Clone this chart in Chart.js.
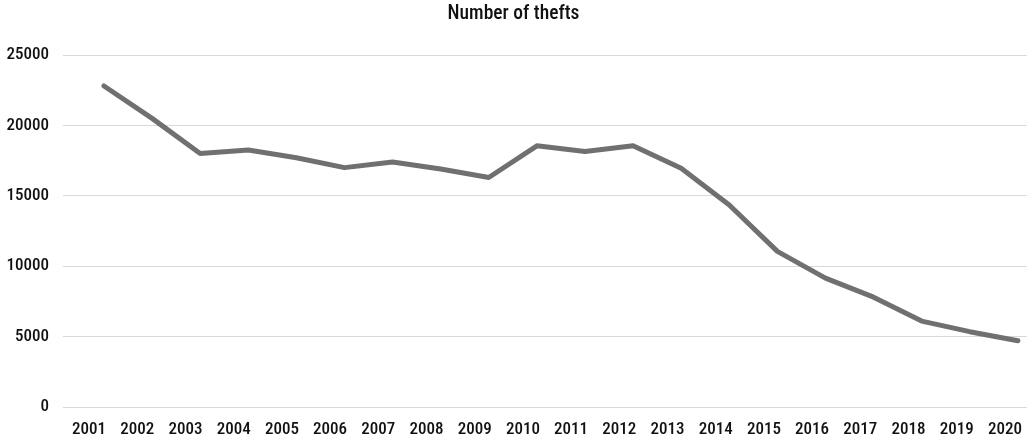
<!DOCTYPE html>
<html>
<head>
<meta charset="utf-8">
<script src="https://cdn.jsdelivr.net/npm/chart.js@4.4.1/dist/chart.umd.min.js"></script>
<style>
  html, body { margin: 0; padding: 0; background: #fff; }
  #wrap { width: 1032px; height: 443px; }
</style>
</head>
<body>
<div id="wrap"><canvas id="theftChart"></canvas></div>
<script>
const years = ["2001", "2002", "2003", "2004", "2005", "2006", "2007", "2008", "2009", "2010",
               "2011", "2012", "2013", "2014", "2015", "2016", "2017", "2018", "2019", "2020"];
const thefts = [22800, 20500, 18000, 18250, 17700, 17000, 17400, 16900, 16300, 18550,
                18150, 18550, 16950, 14350, 11050, 9150, 7800, 6100, 5350, 4700];
const yTicks = [0, 5000, 10000, 15000, 20000, 25000];

const FONT = "'Roboto Condensed', Roboto, sans-serif";
const TEXT = "#111";

function drawChart() {
  new Chart(document.getElementById("theftChart"), {
    type: "line",

    data: {
      labels: years,
      datasets: [{
        label: "Number of thefts",
        // plotted on the hidden linear axis so points sit a bit right of each year label
        xAxisID: "xl",
        data: thefts.map((v, i) => ({ x: i, y: v })),
        borderColor: "#707070",
        borderWidth: 5,
        borderCapStyle: "round",
        borderJoinStyle: "round",
        pointRadius: 0,
        tension: 0,
        fill: false
      }]
    },

    options: {
      responsive: true,
      maintainAspectRatio: false,
      animation: false,
      layout: {
        padding: { left: 0, right: 5, top: 0, bottom: 0 }
      },

      plugins: {
        legend: { display: false },
        tooltip: { enabled: false },
        title: {
          display: true,
          text: "Number of thefts",
          color: TEXT,
          font: { family: FONT, size: 19.5, weight: 500, lineHeight: 1.2 },
          padding: { top: 2, bottom: 29.6 }
        }
      },

      scales: {
        x: {
          type: "category",
          offset: true,
          grid: { display: false },
          border: { display: false },
          ticks: {
            color: TEXT,
            font: { family: FONT, size: 17, weight: 500 },
            padding: 5,
            labelOffset: 2,
            maxRotation: 0,
            autoSkip: false
          },
          afterFit: (scale) => { scale.height = 36; }
        },
        xl: {
          type: "linear",
          display: false,
          min: -0.852,
          max: 19.19
        },
        y: {
          min: 0,
          max: 25000,
          afterBuildTicks: (scale) => { scale.ticks = yTicks.map(v => ({ value: v })); },
          grid: { color: "#d9d9d9", lineWidth: 1, drawTicks: false },
          border: { display: false },
          ticks: {
            color: TEXT,
            font: { family: FONT, size: 17, weight: 500 },
            padding: 14,
            callback: (value) => String(value)
          },
          afterFit: (scale) => { scale.width = 63; }
        }
      }
    }
  });
}

// wait for the condensed face so label widths are measured with it
document.fonts.load("500 17px 'Roboto Condensed'", "2001").finally(drawChart);
</script>
</body>
</html>
